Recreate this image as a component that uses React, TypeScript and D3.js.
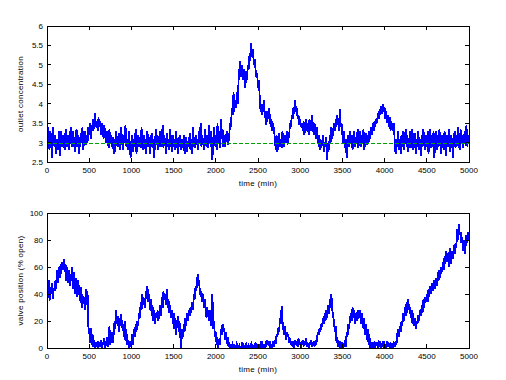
import React from "react";
import * as d3 from "d3";

// time step of the sampled series (min)
const TIME_STEP = 10;

// outlet concentration, sampled every 10 min from 0 to 5000
const concentration = [
  2.9, 3.4, 3.0, 2.8, 3.3, 3.1, 2.6, 3.4, 3.0, 2.9,
  3.2, 2.7, 3.1, 2.8, 3.3, 2.65, 3.0, 3.3, 2.9, 3.2,
  3.0, 2.8, 3.35, 3.1, 2.9, 3.2, 2.8, 3.0, 3.4, 3.1,
  2.9, 3.3, 3.0, 2.75, 3.1, 3.35, 2.9, 3.2, 2.7, 3.0,
  3.25, 3.0, 3.4, 2.8, 3.1, 3.3, 2.95, 3.2, 3.0, 3.4,
  3.2, 3.5, 3.1, 3.45, 3.3, 3.6, 3.35, 3.75, 3.4, 3.55,
  3.3, 3.65, 3.4, 3.55, 3.2, 3.5, 3.35, 3.1, 3.45, 3.2,
  3.0, 3.3, 3.1, 2.85, 3.35, 3.0, 3.2, 2.9, 3.15, 2.7,
  3.1, 2.75, 3.3, 3.0, 2.9, 3.25, 2.8, 3.1, 3.4, 3.0,
  2.8, 3.2, 3.0, 3.45, 2.9, 3.1, 2.8, 3.3, 3.0, 2.6,
  3.0, 3.2, 2.75, 3.1, 2.9, 3.35, 2.7, 3.0, 3.2, 2.9,
  3.15, 2.85, 3.4, 3.0, 2.8, 3.2, 3.05, 2.7, 3.1, 3.3,
  2.9, 3.15, 2.7, 3.0, 3.25, 2.85, 3.1, 2.6, 3.0, 3.35,
  2.95, 3.2, 2.8, 3.1, 3.3, 2.9, 3.0, 3.45, 2.85, 3.2,
  3.0, 2.7, 3.25, 2.9, 3.1, 2.8, 3.35, 3.0, 2.75, 3.2,
  2.9, 3.1, 2.8, 3.3, 3.0, 2.7, 3.15, 2.9, 3.2, 2.8,
  3.1, 2.85, 3.2, 2.7, 3.0, 3.15, 2.75, 3.05, 2.9, 3.25,
  2.8, 3.1, 2.7, 3.4, 3.0, 2.85, 3.2, 2.95, 3.1, 2.8,
  3.3, 3.0, 3.5, 2.9, 3.2, 3.0, 2.8, 3.35, 3.1, 2.9,
  3.2, 2.85, 3.45, 3.0, 3.3, 2.8, 2.55, 3.1, 3.4, 2.9,
  3.2, 2.8, 3.5, 3.0, 3.3, 2.85, 3.6, 3.1, 3.35, 2.9,
  3.2, 2.9, 3.1, 3.3, 2.95, 3.0, 3.2, 3.5, 3.4, 3.9,
  3.7, 4.3, 3.8, 4.1, 3.9, 4.3, 4.0, 4.6, 4.9, 5.1,
  4.7, 5.0, 4.6, 4.9, 4.8, 4.4, 4.85, 4.6, 5.0, 4.9,
  5.3, 5.1, 5.55, 5.2, 5.4, 5.0, 5.15, 4.9, 4.7, 4.8,
  4.4, 4.6, 4.2, 3.8, 4.0, 3.7, 3.9, 4.1, 3.75, 3.6,
  3.45, 3.8, 3.6, 3.9, 3.7, 3.4, 3.6, 3.3, 3.5, 3.3,
  3.1, 2.8, 3.2, 2.75, 3.0, 3.25, 2.9, 3.1, 2.85, 3.3,
  3.0, 2.9, 3.2, 3.0, 3.3, 2.95, 3.1, 3.2, 3.5, 3.4,
  3.7, 3.6, 3.9, 3.75, 4.1, 3.8, 3.9, 3.6, 3.7, 3.45,
  3.6, 3.4, 3.5, 3.3, 3.55, 3.2, 3.4, 3.6, 3.3, 3.5,
  3.2, 3.6, 3.4, 3.3, 3.7, 3.45, 3.2, 3.5, 3.3, 3.1,
  3.4, 3.0, 3.2, 2.8, 3.1, 2.85, 3.0, 3.2, 2.75, 3.0,
  2.9, 3.15, 2.55, 3.0, 2.8, 3.2, 3.0, 3.4, 3.1, 3.3,
  3.5, 3.3, 3.6, 3.4, 3.7, 3.5, 3.3, 3.85, 3.4, 3.5,
  3.2, 3.0, 3.3, 2.85, 3.1, 2.6, 3.0, 3.2, 2.9, 3.3,
  3.0, 3.2, 2.8, 3.1, 3.3, 2.9, 3.15, 3.0, 3.35, 2.85,
  3.1, 3.3, 2.9, 3.2, 3.0, 3.35, 2.8, 3.1, 3.25, 2.95,
  3.2, 3.0, 3.3, 3.1, 3.4, 3.2, 3.5, 3.3, 3.55, 3.4,
  3.6, 3.5, 3.75, 3.6, 3.85, 3.7, 3.95, 3.75, 4.0, 3.8,
  3.9, 3.6, 3.8, 3.5, 3.7, 3.4, 3.65, 3.3, 3.55, 3.4,
  3.3, 3.5, 3.0, 2.7, 3.1, 2.9, 3.3, 2.8, 3.1, 2.7,
  3.2, 2.9, 3.3, 2.8, 3.1, 3.35, 2.9, 3.2, 2.75, 3.0,
  3.3, 2.85, 3.1, 3.35, 2.8, 3.0, 3.25, 2.7, 3.1, 2.9,
  3.3, 2.8, 3.1, 2.65, 3.2, 2.9, 3.35, 3.0, 2.8, 3.2,
  2.9, 3.3, 2.7, 3.1, 3.35, 2.85, 3.2, 2.9, 3.3, 2.6,
  3.1, 3.3, 2.8, 3.2, 2.9, 3.35, 3.0, 2.7, 3.2, 3.0,
  2.8, 3.3, 3.0, 2.65, 3.2, 2.9, 3.35, 3.05, 2.75, 3.2,
  3.0, 2.6, 3.1, 3.3, 2.85, 3.2, 2.9, 3.4, 3.0, 2.8,
  3.35, 3.0, 3.2, 2.85, 3.1, 3.3, 2.9, 3.45, 2.9, 3.2,
  3.0,
];

// setpoint of the outlet concentration
const setpoint = 3;

// valve position (% open), sampled every 10 min from 0 to 5000
const valve = [
  55, 38, 50, 35, 45, 40, 48, 36, 44, 42,
  50, 44, 58, 48, 60, 52, 62, 55, 64, 58,
  66, 56, 62, 50, 60, 48, 58, 46, 55, 50,
  60, 44, 56, 40, 52, 46, 38, 50, 42, 35,
  45, 30, 40, 33, 38, 28, 44, 32, 42, 16,
  12, 4, 15, 2, 10, 1, 6, 0, 4, 1,
  5, 0, 3, 1, 6, 0, 4, 2, 7, 0,
  3, 8, 1, 5, 16, 2, 7, 12, 4, 10,
  20, 14, 28, 18, 24, 12, 22, 16, 25, 15,
  18, 8, 20, 5, 14, 2, 6, 0, 3, 1,
  5, 10, 2, 14, 8, 18, 12, 20, 16, 26,
  22, 34, 28, 40, 32, 36, 30, 42, 36, 46,
  34, 40, 28, 36, 24, 32, 20, 28, 18, 26,
  22, 28, 20, 26, 32, 24, 38, 30, 42, 36,
  40, 32, 44, 30, 36, 26, 32, 22, 28, 18,
  26, 14, 22, 10, 18, 24, 12, 20, 8, 0,
  14, 8, 18, 12, 22, 16, 26, 20, 28, 24,
  30, 26, 34, 28, 40, 36, 46, 42, 52, 55,
  48, 44, 38, 42, 34, 40, 30, 36, 28, 22,
  30, 24, 20, 28, 16, 22, 40, 14, 20, 8,
  12, 2, 8, 0, 6, 2, 14, 10, 18, 12,
  15, 6, 12, 3, 8, 1, 4, 0, 2, 1,
  3, 0, 2, 1, 0, 3, 1, 0, 2, 0,
  1, 3, 0, 2, 1, 0, 3, 1, 0, 2,
  0, 1, 3, 0, 2, 1, 0, 4, 1, 0,
  2, 0, 1, 3, 0, 5, 1, 2, 0, 3,
  1, 6, 2, 4, 1, 3, 0, 2, 5, 1,
  6, 3, 10, 8, 15, 12, 22, 18, 31, 20,
  14, 10, 16, 6, 12, 8, 10, 4, 7, 2,
  5, 1, 3, 0, 6, 2, 4, 1, 7, 2,
  4, 0, 3, 6, 1, 5, 2, 7, 1, 3,
  0, 4, 2, 6, 1, 3, 5, 1, 4, 2,
  8, 12, 10, 15, 12, 18, 16, 22, 18, 26,
  20, 28, 22, 32, 25, 36, 30, 40, 28, 24,
  20, 12, 16, 4, 8, 1, 5, 0, 3, 1,
  4, 0, 2, 6, 1, 12, 8, 18, 14, 22,
  26, 20, 30, 22, 28, 18, 26, 20, 28, 24,
  22, 28, 18, 26, 20, 14, 22, 10, 18, 6,
  14, 2, 10, 0, 4, 1, 3, 0, 5, 1,
  2, 4, 0, 3, 1, 5, 0, 2, 4, 1,
  3, 0, 2, 5, 1, 3, 0, 4, 1, 2,
  0, 3, 1, 5, 2, 10, 14, 8, 16, 12,
  20, 16, 26, 20, 30, 24, 34, 26, 36, 28,
  30, 22, 28, 18, 26, 16, 22, 14, 20, 18,
  24, 20, 28, 24, 32, 26, 36, 30, 38, 34,
  40, 34, 44, 38, 46, 40, 48, 42, 46, 50,
  44, 52, 46, 56, 50, 58, 52, 60, 56, 64,
  58, 68, 62, 72, 64, 70, 60, 74, 66, 62,
  72, 66, 76, 70, 78, 74, 88, 80, 92, 84,
  86, 78, 82, 72, 80, 70, 76, 84, 78, 86,
  80,
];

const xTicks = [0, 500, 1000, 1500, 2000, 2500, 3000, 3500, 4000, 4500, 5000];
const concTicks = [2.5, 3, 3.5, 4, 4.5, 5, 5.5, 6];
const valveTicks = [0, 20, 40, 60, 80, 100];

const FONT = "'Liberation Sans', Arial, Helvetica, sans-serif";
const W = 506;
const H = 380;
const LEFT = 47;
const RIGHT = 469;
const TICK = 4;

type PanelProps = {
  data: number[];
  yDomain: [number, number];
  yTicks: number[];
  top: number;
  bottom: number;
  yLabel: string;
  setLine: number | null;
};

function Panel({ data, yDomain, yTicks, top, bottom, yLabel, setLine }: PanelProps) {
  const x = d3.scaleLinear().domain([0, 5000]).range([LEFT, RIGHT]);
  const y = d3.scaleLinear().domain(yDomain).range([bottom, top]);
  const line = d3
    .line<number>()
    .x((_, i) => x(i * TIME_STEP))
    .y((d) => y(d));
  const path = line(data) || "";
  const midY = (top + bottom) / 2;
  const fmt = (v: number) => String(v);
  return (
    <g>
      <rect x={LEFT} y={top} width={RIGHT - LEFT} height={bottom - top} fill="#fff" />
      <defs>
        <clipPath id={`clip-${top}`}>
          <rect x={LEFT} y={top} width={RIGHT - LEFT} height={bottom - top} />
        </clipPath>
      </defs>
      <g clipPath={`url(#clip-${top})`}>
        <path
          d={path}
          fill="none"
          stroke="#0000ff"
          strokeWidth={1.8}
          strokeLinejoin="miter"
          shapeRendering="crispEdges"
        />
      </g>
      {setLine != null && (
        <line
          x1={x(0)}
          x2={x(5000)}
          y1={Math.round(y(setLine)) + 0.5}
          y2={Math.round(y(setLine)) + 0.5}
          stroke="#00a000"
          strokeWidth={1.2}
          strokeDasharray="4,2"
        />
      )}
      {/* ticks on all sides */}
      <g stroke="#000" strokeWidth={1} shapeRendering="crispEdges">
        {xTicks.map((t) => (
          <g key={"xt" + t}>
            <line x1={x(t)} x2={x(t)} y1={bottom} y2={bottom - TICK} />
            <line x1={x(t)} x2={x(t)} y1={top} y2={top + TICK} />
          </g>
        ))}
        {yTicks.map((t) => (
          <g key={"yt" + t}>
            <line x1={LEFT} x2={LEFT + TICK} y1={y(t)} y2={y(t)} />
            <line x1={RIGHT} x2={RIGHT - TICK} y1={y(t)} y2={y(t)} />
          </g>
        ))}
        <rect x={LEFT} y={top} width={RIGHT - LEFT} height={bottom - top} fill="none" />
      </g>
      <g fontFamily={FONT} fontSize={8} fill="#000">
        {xTicks.map((t) => (
          <text key={"xl" + t} x={x(t)} y={bottom + 11} textAnchor="middle">
            {fmt(t)}
          </text>
        ))}
        {yTicks.map((t) => (
          <text key={"yl" + t} x={LEFT - 4} y={y(t) + 3} textAnchor="end">
            {fmt(t)}
          </text>
        ))}
        <text x={(LEFT + RIGHT) / 2} y={bottom + 24} textAnchor="middle" letterSpacing={0.3}>
          time (min)
        </text>
        <text
          transform={`translate(${23},${midY}) rotate(-90)`}
          textAnchor="middle"
          letterSpacing={0.3}
        >
          {yLabel}
        </text>
      </g>
    </g>
  );
}

export default function App() {
  return (
    <div style={{ position: "fixed", left: 0, top: 0, width: W, height: H, background: "#fff" }}>
      <svg width={W} height={H} viewBox={`0 0 ${W} ${H}`} style={{ display: "block" }}>
        <rect width={W} height={H} fill="#fff" />
        <Panel
          data={concentration}
          yDomain={[2.5, 6]}
          yTicks={concTicks}
          top={26}
          bottom={162}
          yLabel="outlet concentration"
          setLine={setpoint}
        />
        <Panel
          data={valve}
          yDomain={[0, 100]}
          yTicks={valveTicks}
          top={213}
          bottom={348}
          yLabel="valve position (% open)"
          setLine={null}
        />
      </svg>
    </div>
  );
}
